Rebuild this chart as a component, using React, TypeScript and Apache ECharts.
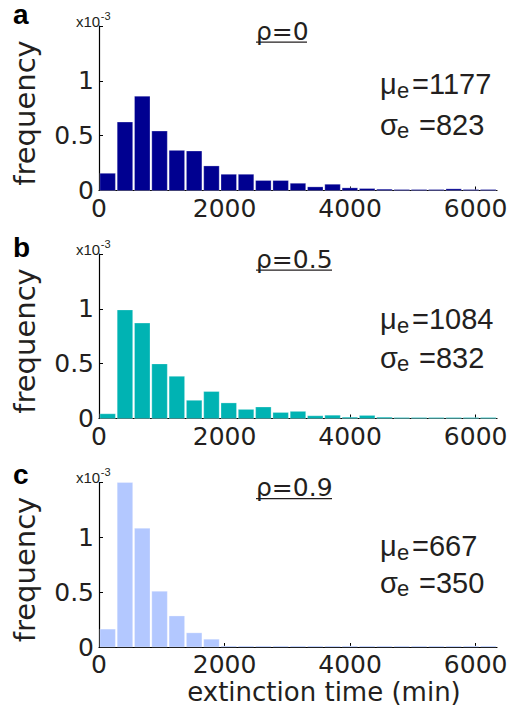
import React, { useEffect, useRef } from "react";
import * as echarts from "echarts";

// Histogram data (frequency in units of 1e-3), bins of equal width starting at 0
const binWidth = 275.6;
const xMax = 6340;
const xTicks = [0, 2000, 4000, 6000];
const yTicks = ["0", "0.5", "1"];

const freqRho0 = [0.157, 0.624, 0.86, 0.542, 0.366, 0.36, 0.224, 0.148, 0.148, 0.091, 0.091, 0.066, 0.033, 0.057, 0.024, 0.018, 0.012, 0.009, 0.006, 0.006, 0.015, 0.005, 0.005];
const freqRho05 = [0.043, 0.99, 0.87, 0.498, 0.385, 0.166, 0.246, 0.142, 0.083, 0.105, 0.055, 0.065, 0.025, 0.03, 0.012, 0.028, 0.012, 0.004, 0.003, 0.003, 0.003, 0.003, 0.003];
const freqRho09 = [0.163, 1.5, 1.083, 0.508, 0.283, 0.129, 0.071, 0.003, 0.003, 0.003, 0.003, 0.003, 0.003, 0.003, 0.003, 0.003, 0.003, 0.003, 0.003, 0.003, 0.003, 0.003, 0.003];

const panelLetters = ["a", "b", "c"];
const rhoTitles = ["ρ=0", "ρ=0.5", "ρ=0.9"];
const meanValues = ["1177", "1084", "667"];
const sdValues = ["823", "832", "350"];
const colors = ["#000090", "#00b3b3", "#b3c8ff"];
const series = [freqRho0, freqRho05, freqRho09];

const FONT = "DejaVu Sans";
const HEL = '"Liberation Sans"';
const TXT = "#231f20";
const gridTops = [26, 254, 482.5];
const gridH = 164.5;
const gridLeft = 99;
const gridRight = 14;
const statRow1 = [58, 65, 63.5];
const statRow2 = [98.5, 103.5, 100];
const letterY = [14.5, 247, 474];

export default function App() {
  const ref = useRef<HTMLDivElement>(null);
  useEffect(() => {
    if (!ref.current) return;
    const chart = echarts.init(ref.current, null, { renderer: "svg" });

    const grids = gridTops.map((t) => ({ left: gridLeft, right: gridRight, top: t, height: gridH }));
    const xAxes = gridTops.map((_, i) => ({
      type: "value",
      gridIndex: i,
      min: 0,
      max: xMax,
      interval: 2000,
      axisLine: { show: true, lineStyle: { color: "#000", width: 1.2 } },
      axisTick: { show: true, inside: true, length: 4, lineStyle: { color: "#000" } },
      splitLine: { show: false },
      axisLabel: {
        show: true,
        fontFamily: FONT,
        fontSize: 25,
        color: TXT,
        margin: 5,
        showMaxLabel: false,
        formatter: (v: number) => (xTicks.includes(v) ? String(v) : ""),
      },
    }));
    const yAxes = gridTops.map((_, i) => ({
      type: "value",
      gridIndex: i,
      min: 0,
      max: 1.5,
      interval: 0.5,
      axisLine: { show: true, lineStyle: { color: "#000", width: 1.2 } },
      axisTick: { show: true, inside: true, length: 4, lineStyle: { color: "#000" } },
      splitLine: { show: false },
      axisLabel: {
        show: true,
        fontFamily: FONT,
        fontSize: 25,
        color: TXT,
        margin: 5,
        formatter: (v: number) => {
          const s = String(v);
          return yTicks.includes(s) ? s : "";
        },
      },
    }));

    const seriesOpts = series.map((vals, i) => ({
      type: "custom",
      xAxisIndex: i,
      yAxisIndex: i,
      clip: false,
      data: vals.map((v, k) => [k * binWidth, (k + 1) * binWidth, v]),
      renderItem: (params: any, api: any) => {
        const p0 = api.coord([api.value(0), 0]);
        const p1 = api.coord([api.value(1), api.value(2)]);
        const h = Math.max(p0[1] - p1[1], 1);
        return {
          type: "rect",
          shape: { x: p0[0] + 0.9, y: p0[1] - h, width: p1[0] - p0[0] - 1.8, height: h },
          style: { fill: colors[i], stroke: "rgba(255,255,255,0.45)", lineWidth: 0.6 },
        };
      },
    }));

    const graphics: any[] = [];
    gridTops.forEach((t, i) => {
      // panel letter
      graphics.push({
        type: "text",
        x: 13,
        y: letterY[i],
        style: { text: panelLetters[i], font: `bold 28px ${HEL}`, fill: "#000", textAlign: "left", textVerticalAlign: "middle" },
      });
      // x10^-3
      graphics.push({
        type: "text",
        x: 76,
        y: t - 5,
        style: { text: "x10", font: `15px ${HEL}`, fill: TXT, textAlign: "left", textVerticalAlign: "middle" },
      });
      graphics.push({
        type: "text",
        x: 100.8,
        y: t - 10.5,
        style: { text: "-3", font: `11px ${HEL}`, fill: TXT, textAlign: "left", textVerticalAlign: "middle" },
      });
      // y-axis name
      graphics.push({
        type: "text",
        x: 25,
        y: t + 87,
        rotation: Math.PI / 2,
        style: { text: "frequency", font: `29px ${FONT}`, fill: TXT, textAlign: "center", textVerticalAlign: "middle" },
      });
      // rho title + underline
      graphics.push({
        type: "text",
        x: 256,
        y: t + 5,
        style: { text: rhoTitles[i], font: `25px ${FONT}`, fill: TXT, textAlign: "left", textVerticalAlign: "middle" },
      });
      graphics.push({
        type: "line",
        shape: { x1: 256, y1: t + 16.2, x2: i === 0 ? 307 : 332, y2: t + 16.2 },
        style: { stroke: TXT, lineWidth: 1.3 },
      });
      // stats
      const r1 = t + statRow1[i];
      const r2 = t + statRow2[i];
      graphics.push({ type: "text", x: 380, y: r1, style: { text: "μ", font: `29px ${HEL}`, fill: TXT, textAlign: "left", textVerticalAlign: "middle" } });
      graphics.push({ type: "text", x: 397, y: r1 + 6, style: { text: "e", font: `22px ${HEL}`, fill: TXT, textAlign: "left", textVerticalAlign: "middle" } });
      graphics.push({ type: "text", x: 412, y: r1, style: { text: "=" + meanValues[i], font: `29px ${HEL}`, fill: TXT, textAlign: "left", textVerticalAlign: "middle" } });
      graphics.push({ type: "text", x: 380, y: r2, style: { text: "σ", font: `29px ${HEL}`, fill: TXT, textAlign: "left", textVerticalAlign: "middle" } });
      graphics.push({ type: "text", x: 397, y: r2 + 6, style: { text: "e", font: `22px ${HEL}`, fill: TXT, textAlign: "left", textVerticalAlign: "middle" } });
      graphics.push({ type: "text", x: 419, y: r2, style: { text: "=" + sdValues[i], font: `29px ${HEL}`, fill: TXT, textAlign: "left", textVerticalAlign: "middle" } });
    });
    graphics.push({
      type: "text",
      x: 324,
      y: 692,
      style: { text: "extinction time (min)", font: `26px ${FONT}`, fill: TXT, textAlign: "center", textVerticalAlign: "middle" },
    });

    chart.setOption({
      animation: false,
      backgroundColor: "#fff",
      grid: grids,
      xAxis: xAxes,
      yAxis: yAxes,
      series: seriesOpts,
      graphic: graphics,
    });
    return () => chart.dispose();
  }, []);
  return <div ref={ref} style={{ width: 511, height: 713, position: "absolute", left: 0, top: 0 }} />;
}
